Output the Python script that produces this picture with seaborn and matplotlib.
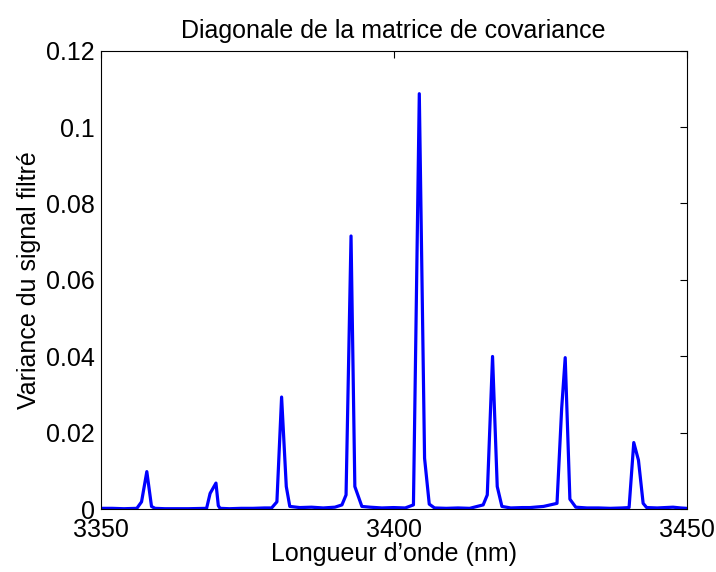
import numpy as np
import pandas as pd
import seaborn as sns
import matplotlib.pyplot as plt

# wavelengths (nm) and diagonal variance values
wavelength = [3350.0, 3352.0, 3354.0, 3356.2, 3357.0, 3357.9, 3358.7, 3359.3, 3361.0, 3363.0,
              3365.0, 3368.1, 3368.7, 3369.7, 3370.1, 3370.4, 3372.0, 3374.0, 3376.0, 3378.0,
              3379.2, 3380.1, 3380.9, 3381.7, 3382.3, 3384.0, 3386.0, 3388.0, 3390.0, 3391.2,
              3391.9, 3392.75, 3393.4, 3394.6, 3396.0, 3398.0, 3400.0, 3402.0, 3403.4, 3404.4,
              3405.3, 3406.1, 3407.0, 3409.0, 3411.0, 3413.0, 3415.3, 3416.0, 3416.9, 3417.7,
              3418.5, 3420.0, 3422.0, 3423.3, 3425.6, 3427.9, 3428.7, 3429.3, 3430.1, 3431.1,
              3433.0, 3435.0, 3437.0, 3439.0, 3440.2, 3441.0, 3441.8, 3442.6, 3443.2, 3445.0,
              3447.7, 3449.0, 3450.0]
variance = [0.0003, 0.0003, 0.0002, 0.0003, 0.0020, 0.0099, 0.0008, 0.0003, 0.0002, 0.0002,
            0.0002, 0.0003, 0.0042, 0.0069, 0.0010, 0.0003, 0.0002, 0.0003, 0.0003, 0.0004,
            0.0004, 0.0020, 0.0294, 0.0060, 0.0008, 0.0005, 0.0006, 0.0004, 0.0006, 0.0012,
            0.0038, 0.0715, 0.0060, 0.0008, 0.0006, 0.0004, 0.0005, 0.0004, 0.0012, 0.1087,
            0.0134, 0.0014, 0.0004, 0.0003, 0.0004, 0.0003, 0.0012, 0.0038, 0.0400, 0.0060,
            0.0008, 0.0004, 0.0005, 0.0005, 0.0008, 0.0016, 0.0265, 0.0397, 0.0027, 0.0006,
            0.0004, 0.0004, 0.0003, 0.0004, 0.0005, 0.0175, 0.0129, 0.0016, 0.0005, 0.0004,
            0.0006, 0.0004, 0.0003]

df = pd.DataFrame({"wavelength": wavelength, "variance": variance})

sns.set_style("white")
plt.rcParams['font.family'] = ['Liberation Sans', 'DejaVu Sans']
plt.rcParams['text.color'] = 'black'
plt.rcParams['axes.labelcolor'] = 'black'

fig = plt.figure(figsize=(7.16, 5.72), dpi=100)
ax = fig.add_axes([0.1404, 0.1093, 0.8184, 0.8024])
sns.lineplot(data=df, x="wavelength", y="variance", color="blue", linewidth=2.3, ax=ax)

ax.set_xlim(3350, 3450)
ax.set_ylim(0, 0.12)
ax.set_xticks([3350, 3400, 3450])
ax.set_yticks([0, 0.02, 0.04, 0.06, 0.08, 0.1, 0.12])
ax.set_yticklabels(["0", "0.02", "0.04", "0.06", "0.08", "0.1", "0.12"])
ax.tick_params(direction="in", top=True, right=True, length=5, width=0.8,
               labelsize=18, colors="black")
ax.tick_params(axis="y", pad=4)
ax.tick_params(axis="x", pad=6)
for s in ax.spines.values():
    s.set_color("black")
    s.set_linewidth(0.8)
ax.set_xlabel("Longueur d\u2019onde (nm)", fontsize=18, labelpad=0)
ax.set_ylabel("Variance du signal filtr\u00e9", fontsize=18, labelpad=4)
ax.set_title("Diagonale de la matrice de covariance", fontsize=18, pad=9)

fig.savefig("out.png", dpi=100)
